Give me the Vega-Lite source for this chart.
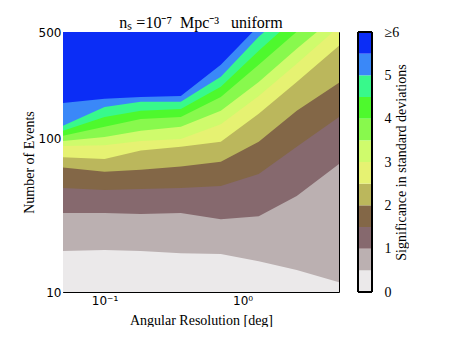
{
  "$schema": "https://vega.github.io/schema/vega-lite/v6.json",
  "background": "white",
  "padding": {"left": 22, "top": 15, "right": 0, "bottom": 0},
  "config": {
    "view": {"stroke": null},
    "axis": {"labelFont": "DejaVu Sans", "labelFontSize": 12, "labelColor": "black", "titleFont": "Liberation Serif", "titleFontSize": 14, "titleFontWeight": "normal", "titleColor": "black", "tickColor": "black", "domainColor": "black", "grid": false, "labelFlush": false, "labelOverlap": false, "zindex": 1}
  },
  "spacing": 17,
  "hconcat": [
    {
      "title": {"text": "nₛ =10⁻⁷\u00a0\u00a0Mpc⁻³\u00a0\u00a0\u00a0uniform", "font": "Liberation Serif", "fontSize": 16, "fontWeight": "normal", "color": "black", "offset": -5},
      "width": 276,
      "height": 260,
      "data": {"values": [
        {"res": 0.05, "b05": 18.5, "b10": 32.8, "b15": 47.8, "b20": 65, "b25": 76, "b30": 90, "b35": 97, "b40": 105, "b45": 113, "b50": 122, "b55": 172},
        {"res": 0.1, "b05": 18.8, "b10": 32.8, "b15": 46.4, "b20": 61, "b25": 74, "b30": 91, "b35": 103, "b40": 120, "b45": 139, "b50": 162, "b55": 183},
        {"res": 0.183, "b05": 18.5, "b10": 32.3, "b15": 47.1, "b20": 63, "b25": 84, "b30": 97, "b35": 113, "b40": 135, "b45": 153, "b50": 175, "b55": 188},
        {"res": 0.357, "b05": 17.9, "b10": 32.8, "b15": 47.8, "b20": 66, "b25": 89, "b30": 100, "b35": 120, "b40": 139, "b45": 157, "b50": 175, "b55": 191},
        {"res": 0.696, "b05": 17.7, "b10": 29.9, "b15": 49.2, "b20": 71, "b25": 96, "b30": 125, "b35": 153, "b40": 188, "b45": 219, "b50": 255, "b55": 305},
        {"res": 1.31, "b05": 15.9, "b10": 31.3, "b15": 59, "b20": 96, "b25": 146, "b30": 191, "b35": 236, "b40": 305, "b45": 377, "b50": 466, "b55": 550},
        {"res": 2.47, "b05": 13.9, "b10": 42.4, "b15": 89, "b20": 153, "b25": 236, "b30": 310, "b35": 389, "b40": 502, "b45": 630, "b50": 766, "b55": 932},
        {"res": 5, "b05": 11.6, "b10": 68.6, "b15": 139, "b20": 233, "b25": 407, "b30": 542, "b35": 659, "b40": 826, "b45": 1036, "b50": 1298, "b55": 1628}
      ]},
      "resolve": {"axis": {"x": "independent", "y": "independent"}},
      "layer": [
        {"mark": {"type": "area", "clip": true, "color": "#ebe9ea"},
         "encoding": {
           "x": {"field": "res", "type": "quantitative", "scale": {"type": "log", "domain": [0.05, 5], "nice": false},
                 "axis": {"orient": "bottom", "values": [0.1, 1], "labelExpr": "datum.value < 0.5 ? '10⁻¹' : '10⁰'", "tickSize": -5, "labelPadding": 8, "domain": true, "title": "Angular Resolution [deg]", "titlePadding": 7}},
           "y": {"datum": 10, "type": "quantitative", "scale": {"type": "log", "domain": [10, 500], "nice": false},
                 "axis": {"orient": "left", "values": [10, 100, 500], "format": "d", "tickSize": -5, "labelPadding": 7, "domain": true, "title": "Number of Events", "titlePadding": 2}},
           "y2": {"datum": 5000}
         }},
        {"mark": {"type": "area", "clip": true, "color": "#bbb0b1"},
         "encoding": {
           "x": {"field": "res", "type": "quantitative", "axis": {"orient": "bottom", "values": [0.06, 0.07, 0.08, 0.09, 0.2, 0.3, 0.4, 0.5, 0.6, 0.7, 0.8, 0.9, 2, 3, 4], "tickSize": -2.5, "labels": false, "domain": false, "title": null}},
           "y": {"field": "b05", "type": "quantitative", "axis": {"orient": "left", "values": [20, 30, 40, 50, 60, 70, 80, 90, 200, 300, 400], "tickSize": -2.5, "labels": false, "domain": false, "title": null}},
           "y2": {"datum": 5000}
         }},
        {"mark": {"type": "area", "clip": true, "color": "#86696e"},
         "encoding": {
           "x": {"field": "res", "type": "quantitative", "axis": {"orient": "top", "values": [0.1, 1], "tickSize": -5, "labels": false, "domain": true, "title": null}},
           "y": {"field": "b10", "type": "quantitative", "axis": {"orient": "right", "values": [100], "tickSize": -5, "labels": false, "domain": true, "title": null}},
           "y2": {"datum": 5000}
         }},
        {"mark": {"type": "area", "clip": true, "color": "#836747"},
         "encoding": {
           "x": {"field": "res", "type": "quantitative", "axis": {"orient": "top", "values": [0.06, 0.07, 0.08, 0.09, 0.2, 0.3, 0.4, 0.5, 0.6, 0.7, 0.8, 0.9, 2, 3, 4], "tickSize": -2.5, "labels": false, "domain": false, "title": null}},
           "y": {"field": "b15", "type": "quantitative", "axis": {"orient": "right", "values": [20, 30, 40, 50, 60, 70, 80, 90, 200, 300, 400], "tickSize": -2.5, "labels": false, "domain": false, "title": null}},
           "y2": {"datum": 5000}
         }},
        {"mark": {"type": "area", "clip": true, "color": "#bbb75c"},
         "encoding": {"x": {"field": "res", "type": "quantitative", "axis": null}, "y": {"field": "b20", "type": "quantitative", "axis": null}, "y2": {"datum": 5000}}},
        {"mark": {"type": "area", "clip": true, "color": "#e6f272"},
         "encoding": {"x": {"field": "res", "type": "quantitative", "axis": null}, "y": {"field": "b25", "type": "quantitative", "axis": null}, "y2": {"datum": 5000}}},
        {"mark": {"type": "area", "clip": true, "color": "#cffb6c"},
         "encoding": {"x": {"field": "res", "type": "quantitative", "axis": null}, "y": {"field": "b30", "type": "quantitative", "axis": null}, "y2": {"datum": 5000}}},
        {"mark": {"type": "area", "clip": true, "color": "#88f94d"},
         "encoding": {"x": {"field": "res", "type": "quantitative", "axis": null}, "y": {"field": "b35", "type": "quantitative", "axis": null}, "y2": {"datum": 5000}}},
        {"mark": {"type": "area", "clip": true, "color": "#4ef92d"},
         "encoding": {"x": {"field": "res", "type": "quantitative", "axis": null}, "y": {"field": "b40", "type": "quantitative", "axis": null}, "y2": {"datum": 5000}}},
        {"mark": {"type": "area", "clip": true, "color": "#38f98b"},
         "encoding": {"x": {"field": "res", "type": "quantitative", "axis": null}, "y": {"field": "b45", "type": "quantitative", "axis": null}, "y2": {"datum": 5000}}},
        {"mark": {"type": "area", "clip": true, "color": "#3a88f8"},
         "encoding": {"x": {"field": "res", "type": "quantitative", "axis": null}, "y": {"field": "b50", "type": "quantitative", "axis": null}, "y2": {"datum": 5000}}},
        {"mark": {"type": "area", "clip": true, "color": "#0b2df6"},
         "encoding": {"x": {"field": "res", "type": "quantitative", "axis": null}, "y": {"field": "b55", "type": "quantitative", "axis": null}, "y2": {"datum": 5000}}}
      ]
    },
    {
      "width": 14,
      "height": 260,
      "data": {"values": [
        {"lo": 0, "hi": 0.5, "lvl": "0"},
        {"lo": 0.5, "hi": 1, "lvl": "0.5"},
        {"lo": 1, "hi": 1.5, "lvl": "1"},
        {"lo": 1.5, "hi": 2, "lvl": "1.5"},
        {"lo": 2, "hi": 2.5, "lvl": "2"},
        {"lo": 2.5, "hi": 3, "lvl": "2.5"},
        {"lo": 3, "hi": 3.5, "lvl": "3"},
        {"lo": 3.5, "hi": 4, "lvl": "3.5"},
        {"lo": 4, "hi": 4.5, "lvl": "4"},
        {"lo": 4.5, "hi": 5, "lvl": "4.5"},
        {"lo": 5, "hi": 5.5, "lvl": "5"},
        {"lo": 5.5, "hi": 6, "lvl": "5.5"}
      ]},
      "layer": [
        {"mark": {"type": "rect"},
         "encoding": {
           "y": {"field": "lo", "type": "quantitative", "scale": {"domain": [0, 6], "nice": false, "zero": false},
                 "axis": {"orient": "right", "values": [0, 1, 2, 3, 4, 5, 6], "labelExpr": "datum.value == 6 ? '≥6' : datum.label", "ticks": false, "labelPadding": 12, "labelFont": "Liberation Serif", "labelFontSize": 14, "domain": false, "title": "Significance in standard deviations", "titleAngle": 270, "titlePadding": 10}},
           "y2": {"field": "hi"},
           "color": {"field": "lvl", "type": "nominal", "legend": null,
                     "scale": {"domain": ["0", "0.5", "1", "1.5", "2", "2.5", "3", "3.5", "4", "4.5", "5", "5.5"],
                               "range": ["#ebe9ea", "#bbb0b1", "#86696e", "#836747", "#bbb75c", "#e6f272", "#cffb6c", "#88f94d", "#4ef92d", "#38f98b", "#3a88f8", "#0b2df6"]}}
         }},
        {"mark": {"type": "rect", "filled": false, "stroke": "black", "strokeWidth": 1},
         "encoding": {"y": {"datum": 0, "type": "quantitative"}, "y2": {"datum": 6}}}
      ]
    }
  ]
}
